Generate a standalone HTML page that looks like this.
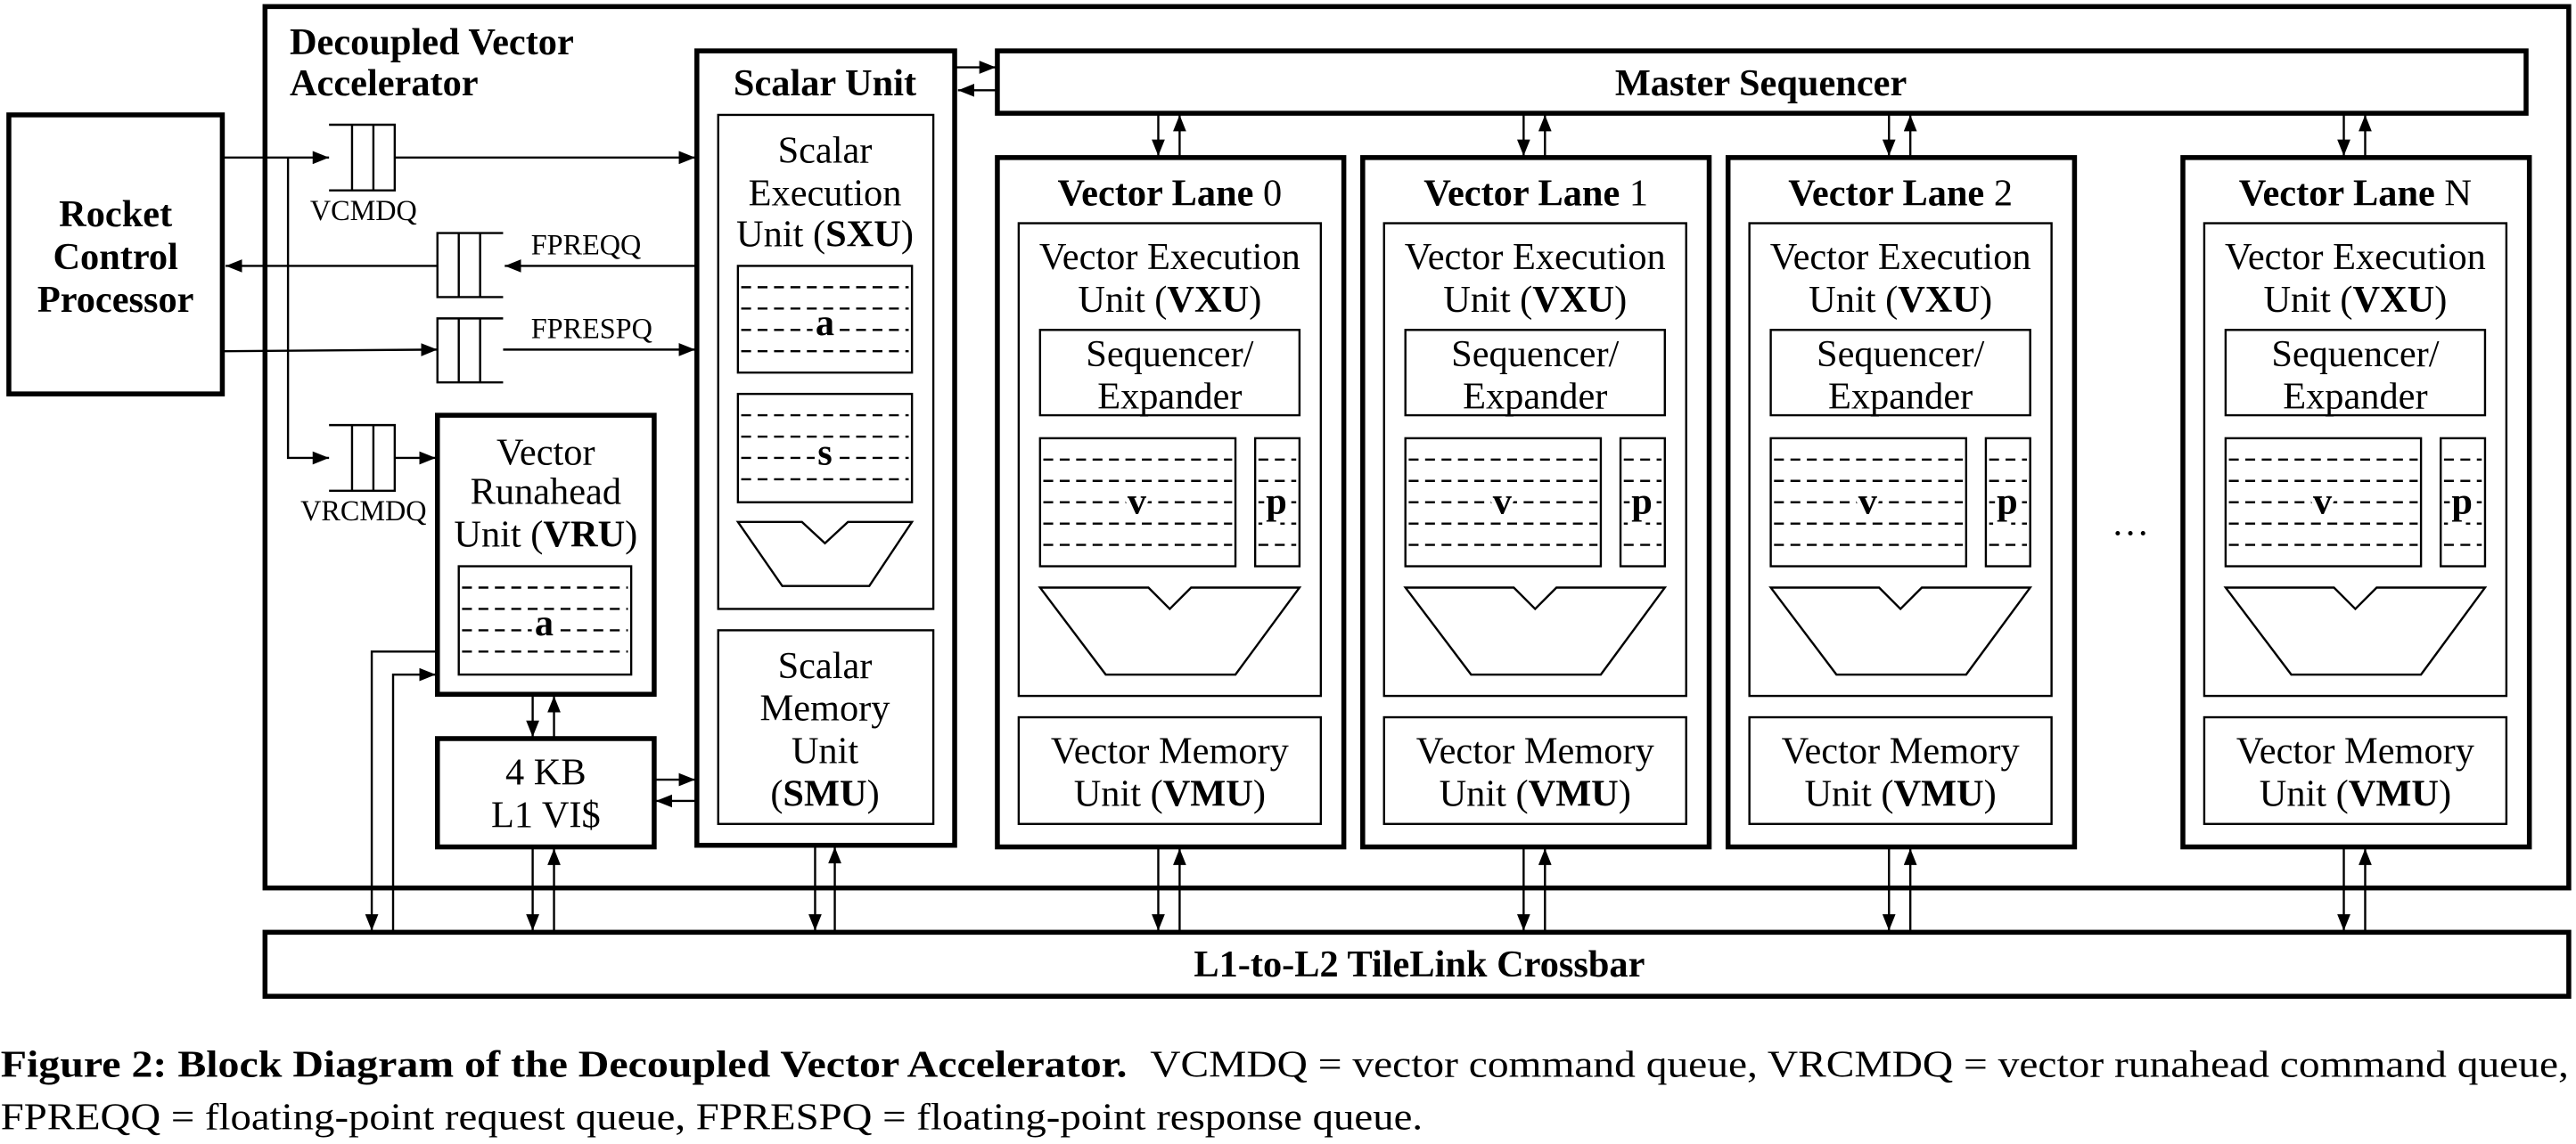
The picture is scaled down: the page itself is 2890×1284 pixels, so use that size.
<!DOCTYPE html>
<html><head><meta charset="utf-8"><style>
html,body{margin:0;padding:0;background:#fff;}
svg{display:block;}
text{font-family:"Liberation Serif","Times New Roman",Times,serif;fill:#000;font-size:23px;}
.b{font-weight:bold;}
.s{font-size:17.5px;}
.lb{stroke:#fff;stroke-width:5;paint-order:stroke;font-weight:bold;}
</style></head><body>
<svg width="2890" height="1284" viewBox="0 0 1568 697" xmlns="http://www.w3.org/2000/svg" font-family="'Liberation Serif','Times New Roman',Times,serif">
<defs>
<marker id="ah" viewBox="0 0 10 8" refX="10" refY="4" markerWidth="10" markerHeight="8" markerUnits="userSpaceOnUse" orient="auto">
<path d="M0,0 L10,4 L0,8 z" fill="#000"/></marker>
</defs>
<g fill="none" stroke="#000">
<g stroke-width="3">
<rect x="161" y="4" width="1403" height="537"/>
<rect x="5" y="70" width="130" height="170"/>
<rect x="424" y="31" width="157" height="484"/>
<rect x="607" y="31" width="931" height="38"/>
<rect x="266" y="253" width="132" height="170"/>
<rect x="266" y="450" width="132" height="66"/>
<rect x="161" y="568" width="1403" height="39"/>
<rect x="607" y="96" width="211" height="420"/>
<rect x="829.5" y="96" width="211" height="420"/>
<rect x="1052" y="96" width="211" height="420"/>
<rect x="1329" y="96" width="211" height="420"/>
</g>
<g stroke-width="1.3">
<rect x="437" y="70" width="131" height="301"/>
<rect x="449" y="162" width="106" height="65"/>
<rect x="449" y="240" width="106" height="66"/>
<path d="M449,318 L488,318 L502,331 L516,318 L555,318 L529,357 L476,357 Z"/>
<rect x="437" y="384" width="131" height="118"/>
<rect x="279" y="345" width="105" height="66"/>
<g stroke-dasharray="6,4">
<path d="M451,175H553M451,188H553M451,201H553M451,214H553"/>
<path d="M451,253H553M451,266H553M451,279H553M451,292H553"/>
<path d="M281,358H382M281,371H382M281,384H382M281,397H382"/>
</g>
<path d="M200,76H240V116H200M214,76V116M227,76V116"/>
<path d="M200,259H240V299H200M214,259V299M227,259V299"/>
<path d="M306,142H266V181H306M279,142V181M292,142V181"/>
<path d="M306,194H266V233H306M279,194V233M292,194V233"/>
<path d="M136,96H200" marker-end="url(#ah)"/>
<path d="M175,96V279H200" marker-end="url(#ah)"/>
<path d="M240,96H423" marker-end="url(#ah)"/>
<path d="M240,279H265" marker-end="url(#ah)"/>
<path d="M423,162H307" marker-end="url(#ah)"/>
<path d="M266,162H137" marker-end="url(#ah)"/>
<path d="M136,214L266,213" marker-end="url(#ah)"/>
<path d="M306,213H423" marker-end="url(#ah)"/>
<path d="M582,41H606" marker-end="url(#ah)"/>
<path d="M606,55H583" marker-end="url(#ah)"/>
<path d="M324,423V449" marker-end="url(#ah)"/>
<path d="M337,450V424" marker-end="url(#ah)"/>
<path d="M398,475H423" marker-end="url(#ah)"/>
<path d="M423,488H399" marker-end="url(#ah)"/>
<path d="M324,516V567" marker-end="url(#ah)"/>
<path d="M337,568V517" marker-end="url(#ah)"/>
<path d="M496,515V567" marker-end="url(#ah)"/>
<path d="M508,568V516" marker-end="url(#ah)"/>
<path d="M266,397H226V567" marker-end="url(#ah)"/>
<path d="M239,568V411H265" marker-end="url(#ah)"/>
</g>
</g>
<g id="lane">
<g fill="none" stroke="#000" stroke-width="1.3">
<rect x="620" y="136" width="184" height="288"/>
<rect x="633" y="201" width="158" height="52"/>
<rect x="633" y="267" width="119" height="78"/>
<rect x="764" y="267" width="27" height="78"/>
<path d="M633,358 L699,358 L712,371 L725,358 L791,358 L752,411 L673,411 Z"/>
<rect x="620" y="437" width="184" height="65"/>
<g stroke-dasharray="6,4">
<path d="M635,280H750M635,293H750M635,306H750M635,319H750M635,332H750"/>
<path d="M766,280H789M766,293H789M766,306H789M766,319H789M766,332H789"/>
</g>
<path d="M705,69V95" marker-end="url(#ah)"/>
<path d="M718,96V70" marker-end="url(#ah)"/>
<path d="M705,516V567" marker-end="url(#ah)"/>
<path d="M718,568V517" marker-end="url(#ah)"/>
</g>
<text x="692" y="313" class="lb" text-anchor="middle">v</text>
<text x="777" y="313" class="lb" text-anchor="middle">p</text>
<text x="712" y="164" text-anchor="middle">Vector Execution</text>
<text x="712" y="190" text-anchor="middle">Unit (<tspan class="b">VXU</tspan>)</text>
<text x="712" y="223" text-anchor="middle">Sequencer/</text>
<text x="712" y="249" text-anchor="middle">Expander</text>
<text x="712" y="465" text-anchor="middle">Vector Memory</text>
<text x="712" y="491" text-anchor="middle">Unit (<tspan class="b">VMU</tspan>)</text>
</g>
<use href="#lane" transform="translate(222.5,0)"/>
<use href="#lane" transform="translate(445,0)"/>
<use href="#lane" transform="translate(722,0)"/>
<text x="712" y="125" text-anchor="middle"><tspan class="b">Vector Lane</tspan> 0</text>
<text x="935" y="125" text-anchor="middle"><tspan class="b">Vector Lane</tspan> 1</text>
<text x="1157" y="125" text-anchor="middle"><tspan class="b">Vector Lane</tspan> 2</text>
<text x="1434" y="125" text-anchor="middle"><tspan class="b">Vector Lane</tspan> N</text>
<text x="1297" y="326" text-anchor="middle">…</text>
<text x="502" y="204" class="lb" text-anchor="middle">a</text>
<text x="502" y="283" class="lb" text-anchor="middle">s</text>
<text x="331" y="387" class="lb" text-anchor="middle">a</text>
<text x="176" y="33" class="b">Decoupled Vector</text>
<text x="176" y="58" class="b">Accelerator</text>
<text x="70" y="138" class="b" text-anchor="middle">Rocket</text>
<text x="70" y="164" class="b" text-anchor="middle">Control</text>
<text x="70" y="190" class="b" text-anchor="middle">Processor</text>
<text x="502" y="58" class="b" text-anchor="middle">Scalar Unit</text>
<text x="1072" y="58" class="b" text-anchor="middle">Master Sequencer</text>
<text x="502" y="99" text-anchor="middle">Scalar</text>
<text x="502" y="125" text-anchor="middle">Execution</text>
<text x="502" y="150" text-anchor="middle">Unit (<tspan class="b">SXU</tspan>)</text>
<text x="502" y="413" text-anchor="middle">Scalar</text>
<text x="502" y="439" text-anchor="middle">Memory</text>
<text x="502" y="465" text-anchor="middle">Unit</text>
<text x="502" y="491" text-anchor="middle">(<tspan class="b">SMU</tspan>)</text>
<text x="332" y="283" text-anchor="middle">Vector</text>
<text x="332" y="307" text-anchor="middle">Runahead</text>
<text x="332" y="333" text-anchor="middle">Unit (<tspan class="b">VRU</tspan>)</text>
<text x="332" y="478" text-anchor="middle">4 KB</text>
<text x="332" y="504" text-anchor="middle">L1 VI$</text>
<text x="221" y="134" class="s" text-anchor="middle">VCMDQ</text>
<text x="221" y="317" class="s" text-anchor="middle">VRCMDQ</text>
<text x="323" y="155" class="s">FPREQQ</text>
<text x="323" y="206" class="s">FPRESPQ</text>
<text x="864" y="595" class="b" text-anchor="middle">L1-to-L2 TileLink Crossbar</text>
<text x="0" y="656" class="b" textLength="686" lengthAdjust="spacingAndGlyphs">Figure 2: Block Diagram of the Decoupled Vector Accelerator.</text>
<text x="700" y="656" textLength="864" lengthAdjust="spacingAndGlyphs">VCMDQ = vector command queue, VRCMDQ = vector runahead command queue,</text>
<text x="0" y="688" textLength="866" lengthAdjust="spacingAndGlyphs">FPREQQ = floating-point request queue, FPRESPQ = floating-point response queue.</text>
</svg>
</body></html>
